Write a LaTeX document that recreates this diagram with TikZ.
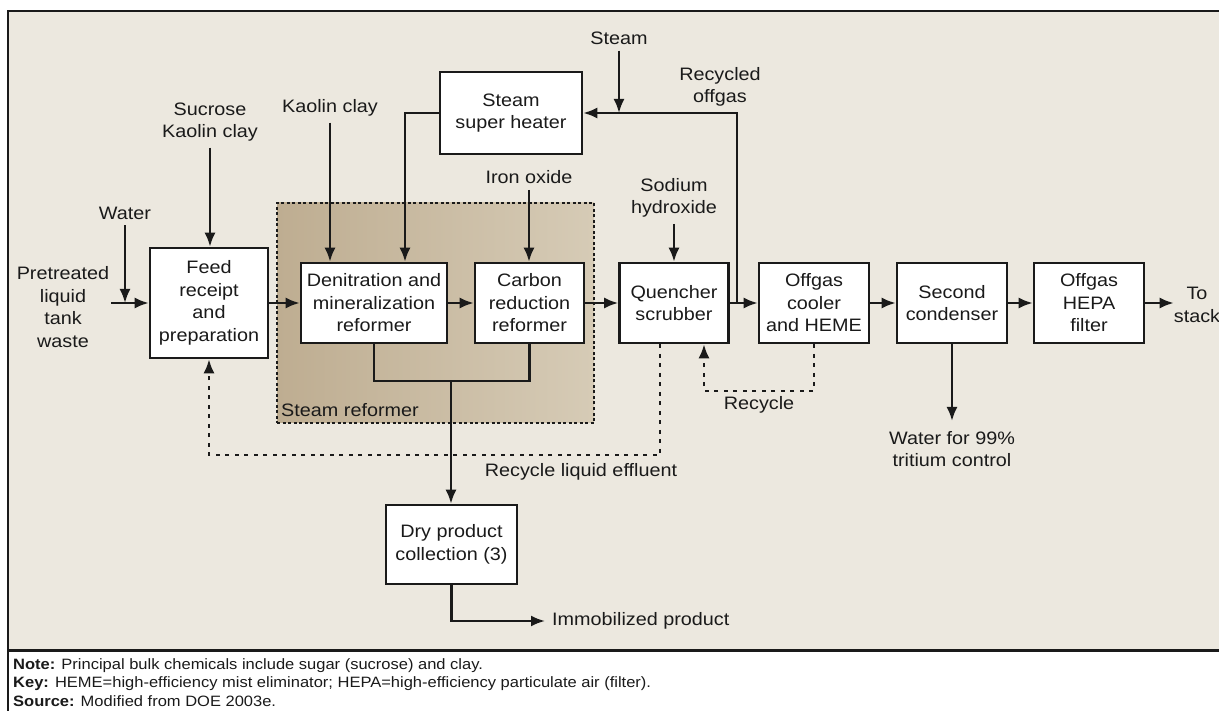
\documentclass[tikz,border=0pt]{standalone}
\usepackage{fontspec}
\setmainfont{Liberation Sans}[FakeStretch=1.1]
\usetikzlibrary{positioning,arrows.meta,calc}
\definecolor{ink}{HTML}{1A1A1A}
\definecolor{paper}{HTML}{ECE8DF}
\definecolor{reformL}{HTML}{BEAD91}
\definecolor{reformR}{HTML}{D6CBB6}

\begin{document}
\begin{tikzpicture}[x=1pt, y=-1pt,
  every node/.style={font=\fontsize{18}{22.5}\selectfont, text=ink},
  unit/.style={draw=ink, line width=2.6pt, fill=white, align=center, inner sep=0pt,
               minimum width=110pt, minimum height=80pt},
  lbl/.style={align=center, inner sep=0pt},
  flow/.style={draw=ink, line width=2.3pt},
  arr/.style={flow, -{Latex[length=14pt,width=11pt]}},
  src/.style={shorten <=6pt},
  recy/.style={arr, dash pattern=on 4pt off 5.5pt}]
\useasboundingbox (0,0) rectangle (1219,711);
% frame and panel
\fill[paper] (8,11) rectangle (1219,650);
\draw[ink, line width=2.4pt] (1219,11) -- (8,11) -- (8,711);
\draw[ink, line width=3pt] (8,650) -- (1219,650);
% steam reformer group
\node[draw=ink, line width=2.2pt, dash pattern=on 3pt off 2.5pt, left color=reformL, right color=reformR,
      minimum width=317pt, minimum height=220pt, inner sep=0pt] (reformer) at (435.5,313) {};
\node[lbl, anchor=south west] (reflbl) at (281,417) {Steam reformer};
% process units
\node[unit, minimum width=118pt, minimum height=110pt] (feed) at (209,303) {Feed\\receipt\\and\\preparation};
\node[unit, minimum width=146pt] (denit) at (374,303) {Denitration and\\mineralization\\reformer};
\node[unit, minimum width=109pt] (carbon) at (529.5,303) {Carbon\\reduction\\reformer};
\node[unit, minimum width=142pt, minimum height=82pt] (heater) at (511,113) {Steam\\super heater};
\node[unit, minimum width=109pt] (quench) at (674,303) {Quencher\\scrubber};
\node[unit] (cooler) at (814,303) {Offgas\\cooler\\and HEME};
\node[unit] (cond) at (952,303) {Second\\condenser};
\node[unit] (hepa) at (1089,303) {Offgas\\HEPA\\filter};
\node[unit, minimum width=131pt, minimum height=79pt] (dry) at (451.5,544.5) {Dry product\\collection (3)};
% stream labels
\node[lbl] (waste) at (63,307) {Pretreated\\liquid\\tank\\waste};
\node[lbl] (water) at (125,213) {Water};
\node[lbl] (sucrose) at (210,122) {Sucrose\\Kaolin clay};
\node[lbl] (kaolin) at (330,108) {Kaolin clay};
\node[lbl] (iron) at (529,177) {Iron oxide};
\node[lbl] (steam) at (619,38) {Steam};
\node[lbl] (offgas) at (720,87) {Recycled\\offgas};
\node[lbl] (naoh) at (674,198) {Sodium\\hydroxide};
\node[lbl] (recycle) at (759,405) {Recycle};
\node[lbl] (tritium) at (952,449) {Water for 99\%\\tritium control};
\node[lbl] (stack) at (1197,305) {To\\stack};
\node[lbl] (effluent) at (581,472) {Recycle liquid effluent};
\node[lbl, anchor=west] (immob) at (552,621) {Immobilized product};
% feeds in
\coordinate (in) at (111,303);
\draw[arr] (in) -- (feed.west);
\draw[arr, src] (water.south) -- (water.south |- in);
\draw[arr, src] (sucrose.south) -- (sucrose.south |- feed.north);
\draw[arr, src] (kaolin.south) -- (kaolin.south |- denit.north);
\draw[arr, src] (iron.south) -- (iron.south |- carbon.north);
\draw[arr, src] (naoh.south) -- (naoh.south |- quench.north);
% main train
\draw[arr] (feed) -- (denit);
\draw[arr] (denit) -- (carbon);
\draw[arr] (carbon) -- (quench);
\draw[arr] (quench) -- (cooler);
\draw[arr] (cooler) -- (cond);
\draw[arr] (cond) -- (hepa);
\draw[arr] (hepa.east) -- (hepa.east -| stack.west);
% superheated steam loop
\coordinate (split) at (737,303);
\coordinate (hdrop) at (405,113);
\draw[arr] (split) |- (heater.east);
\draw[arr, src] (steam.south) -- (steam.south |- heater.east);
\draw[arr] (heater.west) -- (hdrop) -- (hdrop |- denit.north);
% solids to collection
\coordinate (prod) at (451,381);
\draw[flow] (denit.south) |- (prod) -| (carbon.south);
\draw[arr] (prod) -- (prod |- dry.north);
\draw[arr, shorten >=7pt] (dry.south) |- (immob.west);
\draw[arr, shorten >=10pt] (cond.south) -- (tritium.north);
% recycle streams
\coordinate (rec) at (704,391);
\draw[recy] (cooler.south) |- (rec) -- (rec |- quench.south);
\coordinate (liq) at (660,455);
\draw[recy] (liq |- quench.south) -- (liq) -| (feed.south);
% notes
\node[anchor=north west, align=left, inner sep=0pt, font=\fontsize{15}{18.5}\selectfont] (notes) at (13,658)
  {\textbf{Note:} Principal bulk chemicals include sugar (sucrose) and clay.\\
   \textbf{Key:} HEME=high-efficiency mist eliminator; HEPA=high-efficiency particulate air (filter).\\
   \textbf{Source:} Modified from DOE 2003e.};
\end{tikzpicture}
\end{document}
